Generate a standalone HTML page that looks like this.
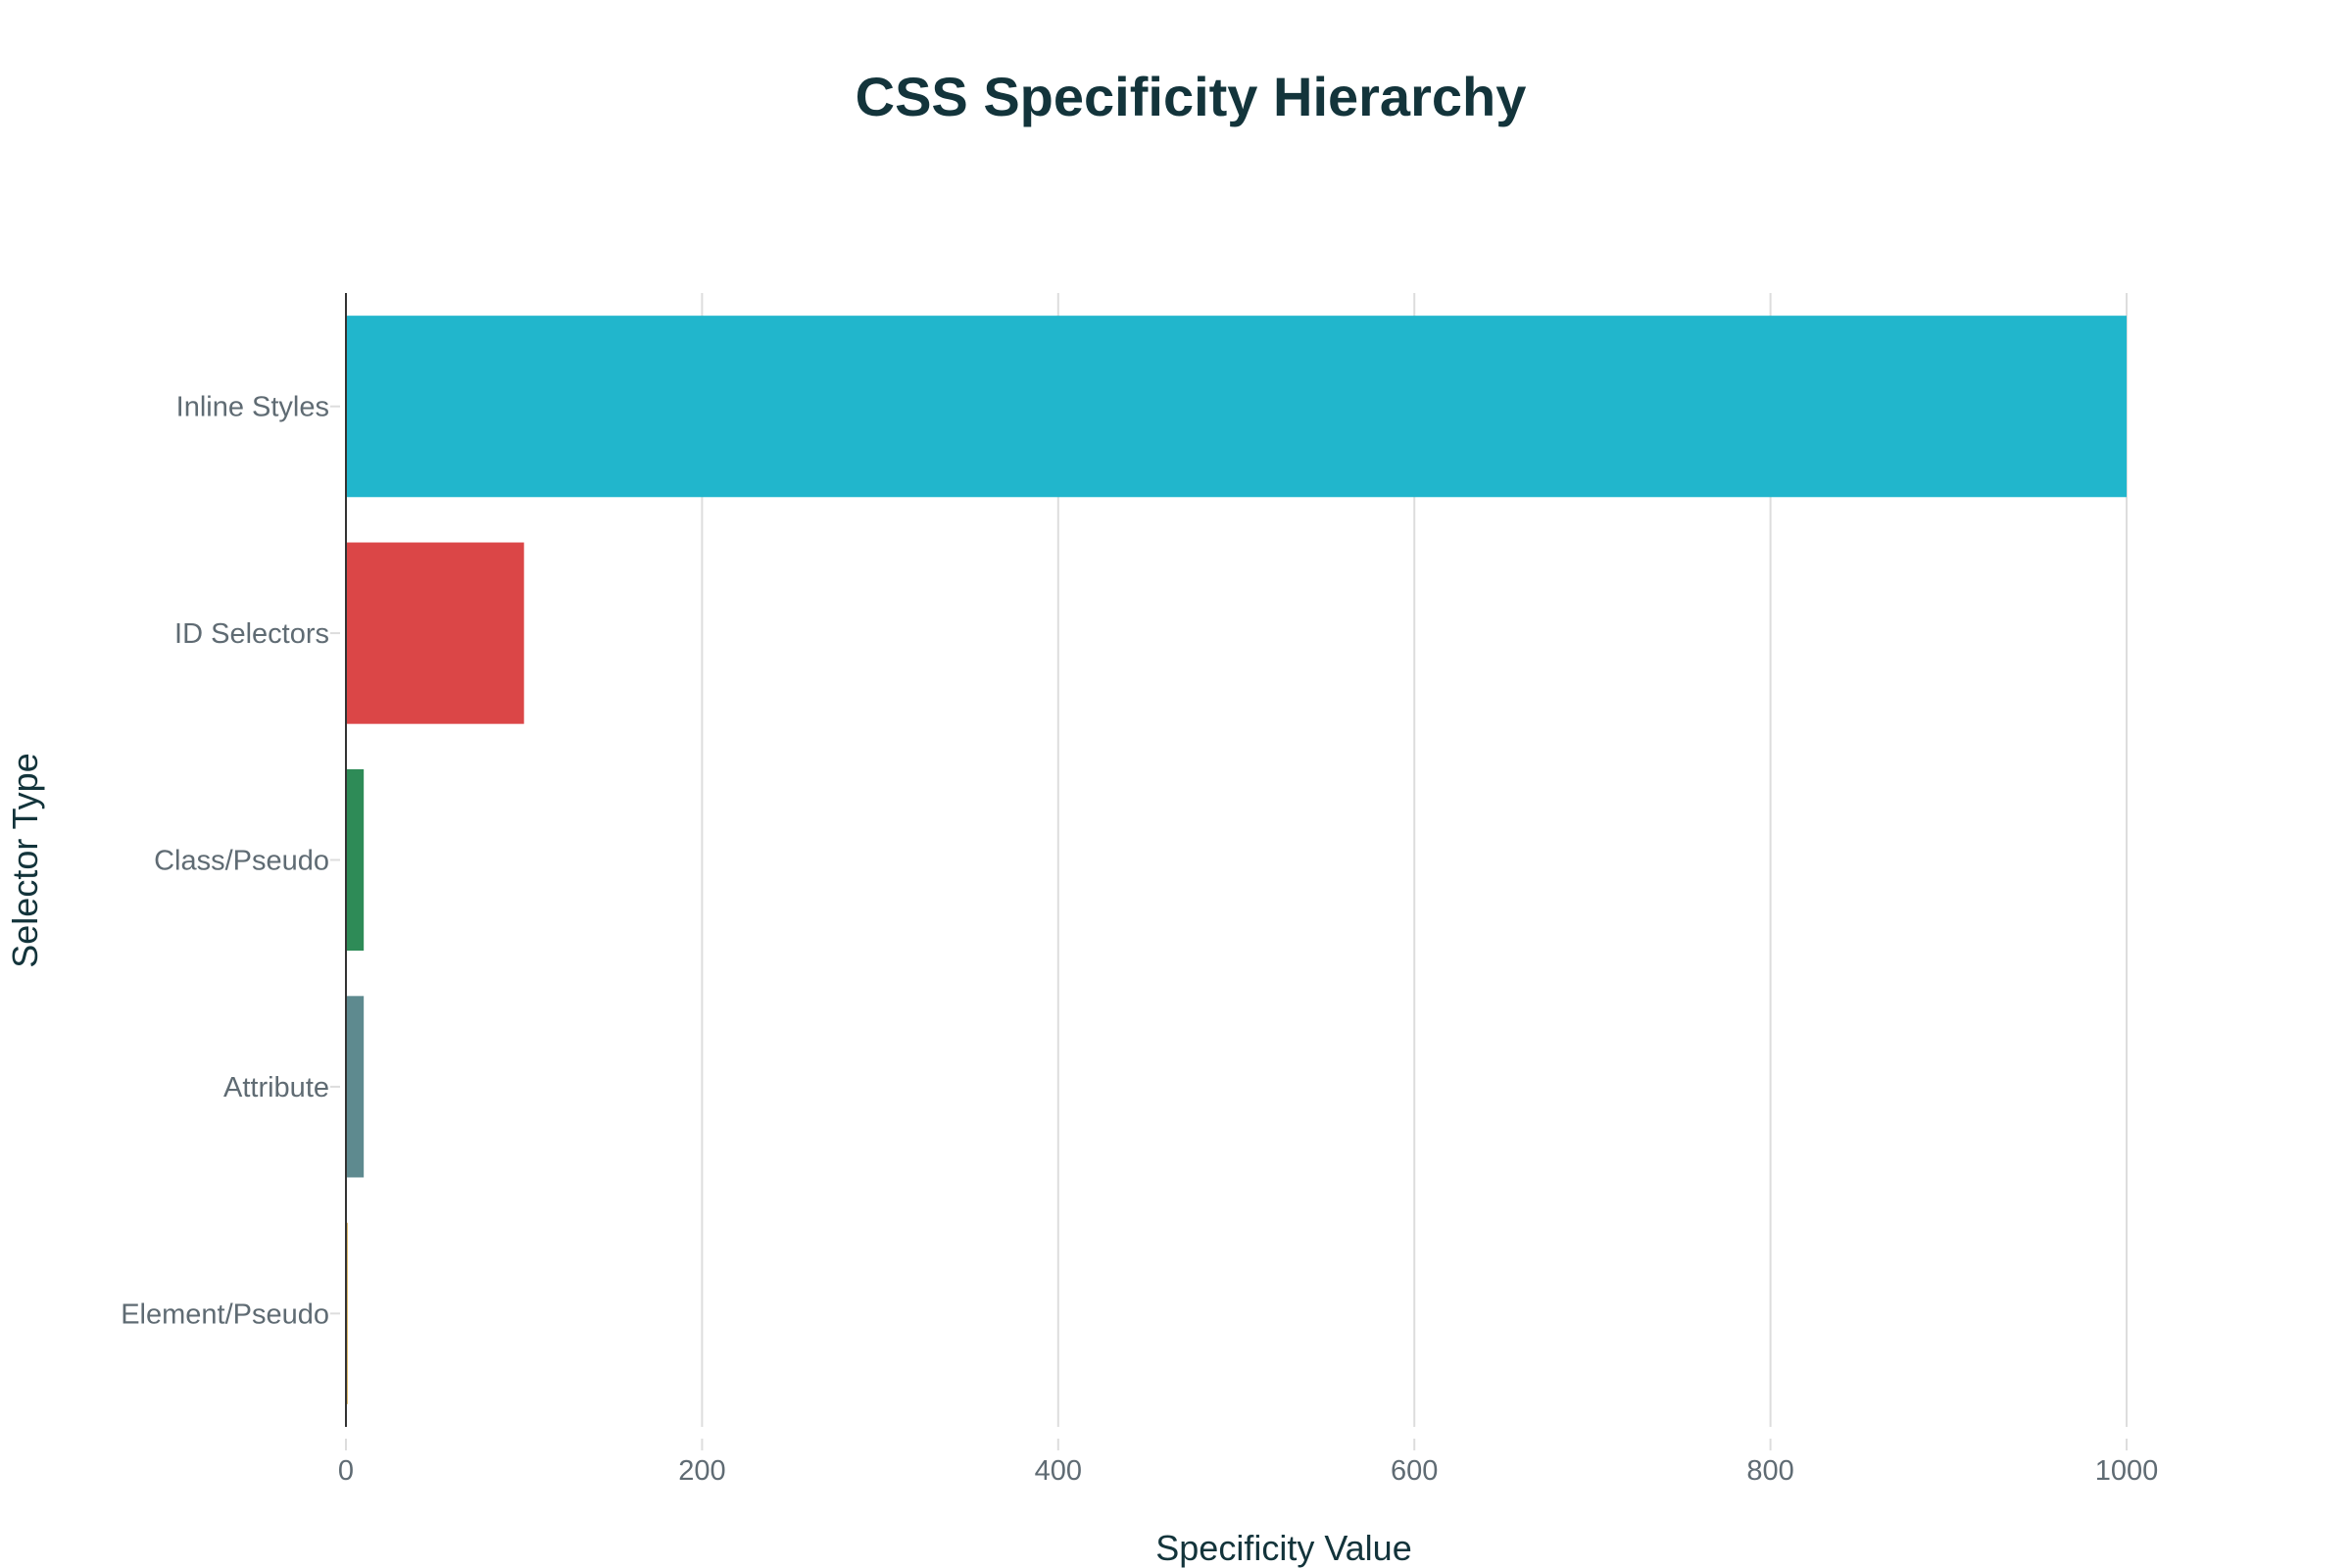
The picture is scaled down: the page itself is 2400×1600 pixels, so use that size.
<!DOCTYPE html>
<html><head><meta charset="utf-8"><style>
html,body{margin:0;padding:0;background:#fff;}
svg{display:block;font-family:"Liberation Sans",sans-serif;}
</style></head><body>
<svg id="chart" width="2400" height="1600" viewBox="0 0 2400 1600" xmlns="http://www.w3.org/2000/svg">
<text x="1215" y="118" text-anchor="middle" font-size="56" font-weight="bold" fill="#13343b">CSS Specificity Hierarchy</text>
<g id="grid"></g>
<g id="bars"></g>
<g id="yt"></g>
<g id="xt"></g>
<line x1="353" y1="299" x2="353" y2="1456" stroke="#333" stroke-width="2"/>
<text x="1310" y="1592" text-anchor="middle" font-size="36" fill="#13343b">Specificity Value</text>
<text transform="translate(38,878) rotate(-90)" text-anchor="middle" font-size="36" fill="#13343b">Selector Type</text>
</svg>
<script>
const categories = ["Inline Styles","ID Selectors","Class/Pseudo","Attribute","Element/Pseudo"];
const values = [1000, 100, 10, 10, 1];
const colors = ["#21b6cc","#db4647","#2e8b57","#5e8a8f","#d4a84a"];
const xTicks = [0,200,400,600,800,1000];
const NS="http://www.w3.org/2000/svg";
const X0=353,X1=2170,YT=299,YB=1456;
function xs(v){return X0+(v/1000)*(X1-X0);}
const band=(YB-YT)/categories.length;
function yc(i){return YT+band*(i+0.5);}
function mk(t,a,p){const e=document.createElementNS(NS,t);for(const k in a)e.setAttribute(k,a[k]);p.appendChild(e);return e;}
const grid=document.getElementById('grid'),bars=document.getElementById('bars'),yt=document.getElementById('yt'),xt=document.getElementById('xt');
xTicks.forEach(v=>{
  if(v>0){const g=mk('line',{x1:xs(v),x2:xs(v),y1:YT,y2:YB,stroke:'#dddddd','stroke-width':2},grid);
  
  }
  const tk=mk('line',{x1:xs(v),x2:xs(v),y1:YB+12,y2:YB+24,stroke:'#dddddd','stroke-width':2},xt);
  
  
  const t=mk('text',{x:xs(v),y:1510,'text-anchor':'middle','font-size':29,fill:'#5f6b73'},xt);
  t.textContent=v;
  
  
});
categories.forEach((c,i)=>{
  const h=band*0.8;
  const r=mk('rect',{x:X0,y:yc(i)-h/2,width:Math.max(xs(values[i])-X0,1),height:h,fill:colors[i]},bars);
  
  
  const tm=mk('line',{x1:X0-16,x2:X0-6,y1:yc(i),y2:yc(i),stroke:'#dddddd','stroke-width':2},yt);
  
  
  const t=mk('text',{x:X0-17,y:yc(i)+10,'text-anchor':'end','font-size':29,fill:'#5f6b73'},yt);
  t.textContent=c;
  
  
});
</script>
</body></html>
